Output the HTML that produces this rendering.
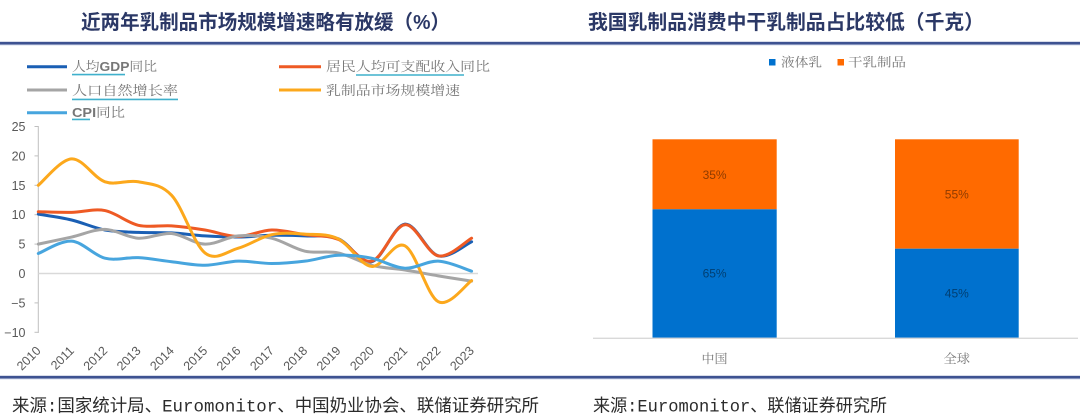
<!DOCTYPE html>
<html>
<head>
<meta charset="utf-8">
<style>
  html,body{margin:0;padding:0;background:#fff;}
  body{width:1080px;height:420px;overflow:hidden;}
  svg{display:block;}
  .title{font-family:"Liberation Sans","Noto Sans CJK SC",sans-serif;font-weight:bold;font-size:20px;fill:#2b3866;}
  .leg{font-family:"Liberation Serif","Noto Serif CJK SC",serif;font-size:13px;fill:#777777;}
  .tick{font-family:"Liberation Sans",sans-serif;font-size:12.5px;fill:#595959;}
  .src{font-family:"Liberation Mono","Noto Sans CJK SC",monospace;font-size:17.5px;fill:#2b2b2b;}
  .bl{font-family:"Liberation Sans",sans-serif;font-size:12px;fill:rgba(0,0,0,0.45);}
</style>
</head>
<body>
<svg id="s" width="1080" height="420" viewBox="0 0 1080 420" xmlns="http://www.w3.org/2000/svg">
  <rect width="1080" height="420" fill="#ffffff"/>

  <!-- titles -->
  <text class="title" x="81" y="29" textLength="369" lengthAdjust="spacingAndGlyphs">近两年乳制品市场规模增速略有放缓（%）</text>
  <text class="title" x="588" y="29" textLength="396" lengthAdjust="spacingAndGlyphs">我国乳制品消费中干乳制品占比较低（千克）</text>

  <!-- separators -->
  <rect x="0" y="41.8" width="1080" height="2.6" fill="#3e5291"/>
  <rect x="0" y="44.4" width="1080" height="0.8" fill="#9aa6cc"/>
  <rect x="0" y="375.8" width="1080" height="2.6" fill="#3e5291"/>
  <rect x="0" y="378.4" width="1080" height="0.8" fill="#9aa6cc"/>

  <!-- LEFT legend -->
  <line x1="27" y1="66.7" x2="67" y2="66.7" stroke="#1a5fb4" stroke-width="3"/>
  <text class="leg" x="72" y="71" textLength="85" lengthAdjust="spacingAndGlyphs">人均<tspan style='font-family:"Liberation Sans",sans-serif;font-weight:bold'>GDP</tspan>同比</text>
  <line x1="72" y1="74.6" x2="125" y2="74.6" stroke="#3fb0cc" stroke-width="1.6"/>

  <line x1="27" y1="90" x2="67" y2="90" stroke="#a5a5a5" stroke-width="3"/>
  <text class="leg" x="72" y="95" textLength="106" lengthAdjust="spacingAndGlyphs">人口自然增长率</text>
  <line x1="72" y1="99.4" x2="178" y2="99.4" stroke="#3fb0cc" stroke-width="1.6"/>

  <line x1="27" y1="112.7" x2="67" y2="112.7" stroke="#47a5de" stroke-width="3"/>
  <text class="leg" x="72" y="117" textLength="53" lengthAdjust="spacingAndGlyphs"><tspan style='font-family:"Liberation Sans",sans-serif;font-weight:bold'>CPI</tspan>同比</text>
  <line x1="72" y1="119.4" x2="90" y2="119.4" stroke="#3fb0cc" stroke-width="1.6"/>

  <line x1="279" y1="66.7" x2="321" y2="66.7" stroke="#ee5a24" stroke-width="3"/>
  <text class="leg" x="326" y="71" textLength="164" lengthAdjust="spacingAndGlyphs">居民人均可支配收入同比</text>
  <line x1="356" y1="75" x2="464" y2="75" stroke="#3fb0cc" stroke-width="1.6"/>

  <line x1="279" y1="90" x2="321" y2="90" stroke="#fca81c" stroke-width="3"/>
  <text class="leg" x="326" y="95" textLength="134" lengthAdjust="spacingAndGlyphs">乳制品市场规模增速</text>

  <!-- LEFT axes -->
  <line x1="38.3" y1="126" x2="38.3" y2="333" stroke="#bfbfbf" stroke-width="1"/>
  <g stroke="#bfbfbf" stroke-width="1">
    <line x1="34.5" y1="126.5" x2="38.3" y2="126.5"/>
    <line x1="34.5" y1="155.9" x2="38.3" y2="155.9"/>
    <line x1="34.5" y1="185.3" x2="38.3" y2="185.3"/>
    <line x1="34.5" y1="214.7" x2="38.3" y2="214.7"/>
    <line x1="34.5" y1="244.1" x2="38.3" y2="244.1"/>
    <line x1="34.5" y1="302.9" x2="38.3" y2="302.9"/>
    <line x1="34.5" y1="332.3" x2="38.3" y2="332.3"/>
  </g>
  <line x1="38.3" y1="273.5" x2="478" y2="273.5" stroke="#d9d9d9" stroke-width="1.5"/>

  <g class="tick" text-anchor="end">
    <text x="25.5" y="131">25</text>
    <text x="25.5" y="160.4">20</text>
    <text x="25.5" y="189.8">15</text>
    <text x="25.5" y="219.2">10</text>
    <text x="25.5" y="248.6">5</text>
    <text x="25.5" y="278">0</text>
    <text x="25.5" y="307.4">−5</text>
    <text x="25.5" y="336.8">−10</text>
  </g>
  <g class="tick" text-anchor="end" id="xl"></g>

  <g id="lines" fill="none" stroke-width="3" stroke-linecap="round" stroke-linejoin="round"></g>

  <!-- RIGHT legend -->
  <rect x="769" y="59" width="6.5" height="6.5" fill="#0071ce"/>
  <text class="leg" x="781" y="66.5" textLength="41" lengthAdjust="spacingAndGlyphs" style="font-size:12.5px">液体乳</text>
  <rect x="837.5" y="59" width="6.5" height="6.5" fill="#ff6a00"/>
  <text class="leg" x="848" y="66.5" textLength="58" lengthAdjust="spacingAndGlyphs" style="font-size:12.5px">干乳制品</text>

  <!-- RIGHT bars -->
  <rect x="652.5" y="139.3" width="124.2" height="70" fill="#ff6a00"/>
  <rect x="652.5" y="209.3" width="124.2" height="128.5" fill="#0071ce"/>
  <rect x="895" y="139.3" width="123.7" height="109.4" fill="#ff6a00"/>
  <rect x="895" y="248.7" width="123.7" height="89.1" fill="#0071ce"/>
  <line x1="593" y1="338.3" x2="1078" y2="338.3" stroke="#d9d9d9" stroke-width="1.3"/>

  <g class="bl" text-anchor="middle">
    <text x="714.6" y="179">35%</text>
    <text x="714.6" y="277.5">65%</text>
    <text x="956.8" y="198.5">55%</text>
    <text x="956.8" y="297.5">45%</text>
  </g>

  <text class="leg" x="701.5" y="363" textLength="26" lengthAdjust="spacingAndGlyphs" style="font-size:12.5px">中国</text>
  <text class="leg" x="943.5" y="363" textLength="26.5" lengthAdjust="spacingAndGlyphs" style="font-size:12.5px">全球</text>

  <!-- sources -->
  <text class="src" x="12" y="411.5" textLength="527" lengthAdjust="spacingAndGlyphs"><tspan style='font-family:"Noto Sans CJK SC",sans-serif'>来源</tspan>:<tspan style='font-family:"Noto Sans CJK SC",sans-serif'>国家统计局、</tspan>Euromonitor<tspan style='font-family:"Noto Sans CJK SC",sans-serif'>、中国奶业协会、联储证券研究所</tspan></text>
  <text class="src" x="593" y="411.5" textLength="294" lengthAdjust="spacingAndGlyphs"><tspan style='font-family:"Noto Sans CJK SC",sans-serif'>来源</tspan>:Euromonitor<tspan style='font-family:"Noto Sans CJK SC",sans-serif'>、联储证券研究所</tspan></text>
</svg>

<script>
(function(){
  var NS="http://www.w3.org/2000/svg";
  function X(i){return 38.3+i*33.33;}
  function Y(v){return 273.5-v*5.88;}
  var series=[
    {c:"#1a5fb4",d:[10.1,9.1,7.4,7.0,6.9,6.4,6.2,6.5,6.4,5.9,2.0,8.4,3.0,5.4]},
    {c:"#ee5a24",d:[10.5,10.4,10.7,8.2,8.1,7.4,6.3,7.4,6.6,5.8,2.1,8.3,3.0,6.0]},
    {c:"#a5a5a5",d:[5.0,6.2,7.5,6.0,6.8,5.0,6.4,6.0,3.8,3.5,1.4,0.6,-0.4,-1.3]},
    {c:"#fca81c",d:[15.0,19.5,15.6,15.6,13.3,3.5,4.3,6.6,6.7,5.9,1.2,4.7,-4.8,-1.2]},
    {c:"#47a5de",d:[3.4,5.5,2.6,2.7,2.0,1.4,2.1,1.7,2.1,3.1,2.6,0.9,2.1,0.4]}
  ];
  var g=document.getElementById("lines");
  series.forEach(function(s){
    var p=s.d.map(function(v,i){return [X(i),Y(v)];});
    var n=p.length;
    var d="M"+p[0][0].toFixed(2)+","+p[0][1].toFixed(2);
    for(var i=0;i<n-1;i++){
      var p0=p[i>0?i-1:i],p1=p[i],p2=p[i+1],p3=p[i+2<n?i+2:i+1];
      var c1x=p1[0]+(p2[0]-p0[0])/6,c1y=p1[1]+(p2[1]-p0[1])/6;
      var c2x=p2[0]-(p3[0]-p1[0])/6,c2y=p2[1]-(p3[1]-p1[1])/6;
      d+=" C"+c1x.toFixed(2)+","+c1y.toFixed(2)+" "+c2x.toFixed(2)+","+c2y.toFixed(2)+" "+p2[0].toFixed(2)+","+p2[1].toFixed(2);
    }
    var path=document.createElementNS(NS,"path");
    path.setAttribute("d",d);
    path.setAttribute("stroke",s.c);
    g.appendChild(path);
  });
  var xl=document.getElementById("xl");
  for(var i=0;i<14;i++){
    var t=document.createElementNS(NS,"text");
    var x=X(i)+3.2,y=351.5;
    t.setAttribute("x",x.toFixed(2));
    t.setAttribute("y",y);
    t.setAttribute("transform","rotate(-45 "+x.toFixed(2)+" "+y+")");
    t.textContent=String(2010+i);
    xl.appendChild(t);
  }
})();
</script>
</body>
</html>
